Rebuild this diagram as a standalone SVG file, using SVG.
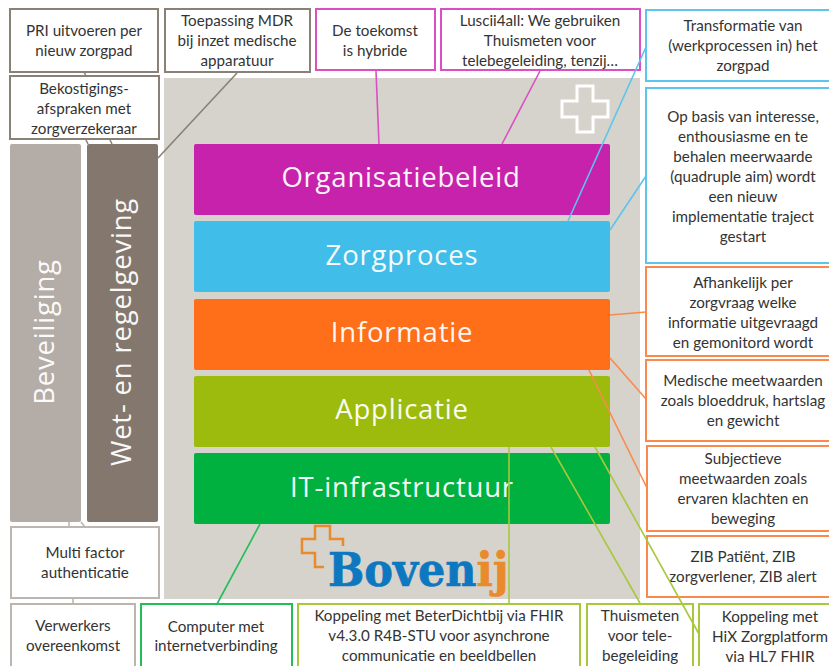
<svg xmlns="http://www.w3.org/2000/svg" width="829" height="666" viewBox="0 0 829 666">
<style>
text{font-family:"Lato","Open Sans",sans-serif}
.t text{font-size:15.2px;fill:#333;text-anchor:middle}
.b{fill:#fff;stroke-width:2}
.g{stroke:#8b8076}.l{stroke:#bdb6b0}.m{stroke:#dc4fc4}.c{stroke:#5cc5ec}.o{stroke:#fa8a4c}.a{stroke:#a8c83c}.n{stroke:#22bf58}
.lay{font-family:"Open Sans","Noto Sans",sans-serif;font-size:27.5px;fill:#fff;text-anchor:middle;letter-spacing:.8px;opacity:.95}
.logo{font-family:"DejaVu Serif",serif;font-size:46px;font-weight:700;stroke-width:.7}
#connectors line{stroke-width:1.6;fill:none}
</style>
<rect width="829" height="666" fill="#fff"/>
<rect x="164" y="78" width="476" height="521" fill="#d6d2cc"/>
<path d="M577 86H593V101H608V117H593V132H577V117H562V101H577Z" fill="none" stroke="#fff" stroke-width="3"/>
<g id="beveiliging"><rect x="10" y="144" width="71" height="378" rx="2" fill="#b4aca6"/><text class="lay" transform="translate(54 332) rotate(-90)">Beveiliging</text></g>
<g id="wet"><rect x="87" y="144" width="71" height="378" rx="2" fill="#84786e"/><text class="lay" transform="translate(131 332) rotate(-90)">Wet- en regelgeving</text></g>
<g id="organisatiebeleid"><rect x="194" y="144" width="416" height="71" rx="2" fill="#c722ac"/><text class="lay" x="401" y="187">Organisatiebeleid</text></g>
<g id="zorgproces"><rect x="194" y="221" width="416" height="71" rx="2" fill="#41bde9"/><text class="lay" x="402" y="265">Zorgproces</text></g>
<g id="informatie"><rect x="194" y="299" width="416" height="71" rx="2" fill="#ff6f19"/><text class="lay" x="402" y="342">Informatie</text></g>
<g id="applicatie"><rect x="194" y="376" width="416" height="71" rx="2" fill="#9cbb0d"/><text class="lay" x="402" y="419">Applicatie</text></g>
<g id="infrastructuur"><rect x="194" y="453" width="416" height="71" rx="2" fill="#00b140"/><text class="lay" x="402" y="497">IT-infrastructuur</text></g>
<g id="logo">
<path d="M343 546V539H330V526H315V539H302V553H315V567H324" fill="none" stroke="#e98a2b" stroke-width="2.500"/>
<text class="logo" transform="translate(328 586) scale(.935 1)"><tspan fill="#0d78c0" stroke="#0d78c0">Boven</tspan><tspan fill="#e98a2b" stroke="#e98a2b">ij</tspan></text>
</g>
<g id="n1" class="t"><rect class="b g" x="10" y="9" width="148" height="63"/><text x="84" y="36">PRI uitvoeren per</text><text x="84" y="56">nieuw zorgpad</text></g>
<g id="n2" class="t"><rect class="b g" x="10" y="76" width="149" height="63"/><text x="84" y="94">Bekostigings-</text><text x="84" y="114">afspraken met</text><text x="84" y="134">zorgverzekeraar</text></g>
<g id="n3" class="t"><rect class="b g" x="165" y="9" width="145" height="63"/><text x="237" y="26">Toepassing MDR</text><text x="237" y="46">bij inzet medische</text><text x="237" y="66">apparatuur</text></g>
<g id="n4" class="t"><rect class="b m" x="316" y="9" width="119" height="61"/><text x="375" y="36">De toekomst</text><text x="375" y="56">is hybride</text></g>
<g id="n5" class="t"><rect class="b m" x="441" y="9" width="199" height="61"/><text x="540" y="26">Luscii4all: We gebruiken</text><text x="540" y="46">Thuismeten voor</text><text x="540" y="66">telebegeleiding, tenzij…</text></g>
<g id="n6" class="t"><rect class="b c" x="646" y="10" width="184" height="71"/><text x="743" y="31">Transformatie van</text><text x="743" y="51">(werkprocessen in) het</text><text x="743" y="71">zorgpad</text></g>
<g id="n7" class="t"><rect class="b c" x="646" y="88" width="184" height="175"/><text x="743" y="122">Op basis van interesse,</text><text x="743" y="142">enthousiasme en te</text><text x="743" y="162">behalen meerwaarde</text><text x="743" y="182">(quadruple aim) wordt</text><text x="743" y="202">een nieuw</text><text x="743" y="222">implementatie traject</text><text x="743" y="242">gestart</text></g>
<g id="n8" class="t"><rect class="b o" x="646" y="267" width="184" height="89"/><text x="743" y="288">Afhankelijk per</text><text x="743" y="308">zorgvraag welke</text><text x="743" y="328">informatie uitgevraagd</text><text x="743" y="348">en gemonitord wordt</text></g>
<g id="n9" class="t"><rect class="b o" x="646" y="360" width="184" height="81"/><text x="743" y="386">Medische meetwaarden</text><text x="743" y="406">zoals bloeddruk, hartslag</text><text x="743" y="426">en gewicht</text></g>
<g id="n10" class="t"><rect class="b o" x="647" y="446" width="183" height="85"/><text x="743" y="464">Subjectieve</text><text x="743" y="484">meetwaarden zoals</text><text x="743" y="504">ervaren klachten en</text><text x="743" y="524">beweging</text></g>
<g id="n11" class="t"><rect class="b o" x="647" y="536" width="183" height="61"/><text x="743" y="562">ZIB Patiënt, ZIB</text><text x="743" y="582">zorgverlener, ZIB alert</text></g>
<g id="n12" class="t"><rect class="b l" x="11" y="527" width="148" height="71"/><text x="85" y="558">Multi factor</text><text x="85" y="578">authenticatie</text></g>
<g id="n13" class="t"><rect class="b l" x="11" y="604" width="124" height="64"/><text x="73" y="631">Verwerkers</text><text x="73" y="651">overeenkomst</text></g>
<g id="n14" class="t"><rect class="b n" x="141" y="604" width="151" height="64"/><text x="216" y="632">Computer met</text><text x="216" y="651">internetverbinding</text></g>
<g id="n15" class="t"><rect class="b a" x="298" y="604" width="282" height="64"/><text x="439" y="621">Koppeling met BeterDichtbij via FHIR</text><text x="439" y="641">v4.3.0 R4B-STU voor asynchrone</text><text x="439" y="661">communicatie en beeldbellen</text></g>
<g id="n16" class="t"><rect class="b a" x="587" y="604" width="106" height="64"/><text x="640" y="621">Thuismeten</text><text x="640" y="641">voor tele-</text><text x="640" y="661">begeleiding</text></g>
<g id="n17" class="t"><rect class="b a" x="699" y="604" width="131" height="64"/><text x="770" y="622">Koppeling met</text><text x="770" y="642">HiX Zorgplatform</text><text x="770" y="662">via HL7 FHIR</text></g>
<g id="connectors">
<line class="g" x1="84" y1="72" x2="86" y2="76"/>
<line class="g" x1="86" y1="140" x2="88" y2="144"/>
<line class="g" x1="110" y1="140" x2="112" y2="144"/>
<line class="g" x1="237" y1="73" x2="158" y2="158"/>
<line class="m" x1="376" y1="71" x2="379" y2="144"/>
<line class="m" x1="540" y1="71" x2="502" y2="144"/>
<line class="c" x1="646" y1="47" x2="568" y2="221"/>
<line class="c" x1="646" y1="176" x2="610" y2="230"/>
<line class="o" x1="646" y1="312" x2="610" y2="315"/>
<line class="o" x1="646" y1="399" x2="610" y2="358"/>
<line class="o" x1="647" y1="488" x2="589" y2="370"/>
<line class="a" x1="509" y1="447" x2="509" y2="604"/>
<line class="a" x1="551" y1="447" x2="640" y2="603"/>
<line class="a" x1="595" y1="447" x2="699" y2="634"/>
<line class="n" x1="260" y1="524" x2="217" y2="604"/>
<line class="l" x1="69" y1="522" x2="69" y2="527"/>
<line class="l" x1="81" y1="522" x2="85" y2="527"/>
<line class="l" x1="73" y1="598" x2="73" y2="604"/>
</g>
</svg>
